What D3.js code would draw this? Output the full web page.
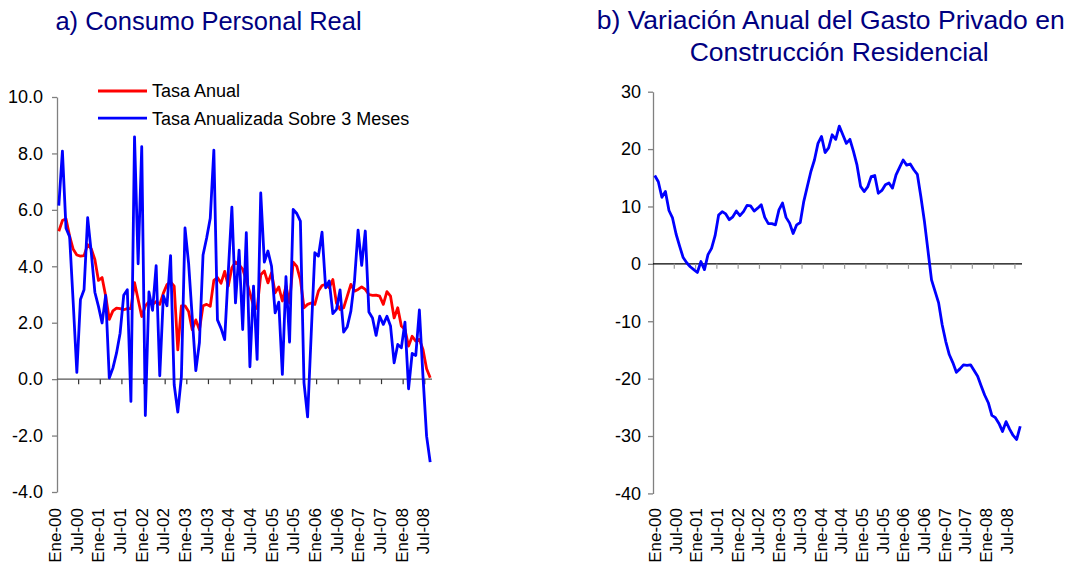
<!DOCTYPE html>
<html>
<head>
<meta charset="utf-8">
<script src="https://cdn.jsdelivr.net/npm/d3@7"></script>
<style>
  body { margin: 0; background: #fff; }
  text { font-family: "Liberation Sans", Arial, sans-serif; }
</style>
</head>
<body>
<svg id="chart" width="1071" height="565"></svg>
<script>
// Meses: Ene-00 ... Ago-08 (104 observaciones mensuales)
const mesesNombres = ["Ene", "Feb", "Mar", "Abr", "May", "Jun", "Jul", "Ago", "Sep", "Oct", "Nov", "Dic"];
const anios = ["00", "01", "02", "03", "04", "05", "06", "07", "08"];
const meses = [];
anios.forEach(a => mesesNombres.forEach(m => meses.push(m + "-" + a)));
meses.length = 104;

// Etiquetas del eje x (cada 6 meses)
const etiquetasX = ["Ene-00", "Jul-00", "Ene-01", "Jul-01", "Ene-02", "Jul-02", "Ene-03", "Jul-03", "Ene-04",
  "Jul-04", "Ene-05", "Jul-05", "Ene-06", "Jul-06", "Ene-07", "Jul-07", "Ene-08", "Jul-08"];

// a) Consumo personal real
const tasaAnual = [
  5.24, 5.62, 5.68, 5.07, 4.6, 4.4, 4.36, 4.38, 4.77, 4.62, 4.24, 3.5,
  3.6, 2.95, 2.12, 2.42, 2.52, 2.5, 2.46, 2.5, 2.5, 3.42, 2.82, 2.22,
  2.6, 2.75, 2.65, 2.75, 2.65, 3.05, 3.35, 3.45, 3.3, 1.04, 2.6, 2.6,
  2.4, 1.75, 2.1, 1.75, 2.6, 2.65, 2.58, 3.5, 3.6, 3.4, 3.82, 3.3,
  3.95, 4.15, 4.05, 3.9, 3.5, 3.06, 2.6, 2.5, 3.7, 3.83, 3.41, 3.77,
  3.06, 3.27, 2.77, 3.3, 2.7, 4.15, 4.0, 3.53, 2.53, 2.65, 2.7, 2.65,
  3.12, 3.32, 3.36, 3.24, 3.53, 2.7, 2.47, 2.53, 2.94, 3.36, 3.12, 3.18,
  3.27, 3.18, 3.0, 2.97, 2.98, 2.94, 2.65, 3.1, 2.94, 2.17, 2.53, 1.88,
  1.76, 1.17, 1.52, 1.35, 1.41, 1.05, 0.37, 0.05
];
const tasa3Meses = [
  6.15, 8.08, 5.35, 5.05, 2.7, 0.24, 2.82, 3.17, 5.72, 4.5, 3.08, 2.58,
  1.99, 2.97, 0.04, 0.39, 0.92, 1.63, 2.97, 3.17, -0.79, 8.59, 4.09, 8.24,
  -1.29, 3.09, 2.44, 4.02, 0.12, 2.96, 2.6, 4.38, -0.2, -1.17, 0.09, 5.36,
  4.1, 2.2, 0.3, 1.3, 4.4, 5.0, 5.7, 8.12, 2.1, 1.8, 1.4, 3.8,
  6.1, 2.7, 4.57, 1.76, 5.19, 0.44, 3.3, 0.7, 6.6, 4.15, 4.54, 4.0,
  2.35, 2.73, 0.17, 3.63, 1.31, 6.02, 5.87, 5.6, -0.13, -1.34, 1.6, 4.48,
  4.36, 5.21, 3.24, 3.48, 2.32, 2.47, 3.16, 1.67, 1.86, 2.41, 3.48, 5.28,
  4.03, 5.25, 2.38, 2.17, 1.55, 2.23, 1.94, 2.23, 1.88, 0.58, 1.23, 1.11,
  2.02, -0.34, 0.91, 0.84, 2.45, 0.1, -2.02, -2.94
];
const ticksA = [-4, -2, 0, 2, 4, 6, 8, 10];

// b) Gasto privado en construccion residencial, variacion anual
const construccion = [
  15.4, 14.3, 11.6, 12.6, 9.3, 8.0, 5.2, 3.1, 1.1, 0.2, -0.5, -1.0,
  -1.5, 0.4, -1.0, 1.6, 2.7, 4.9, 8.5, 9.1, 8.7, 7.7, 8.2, 9.2,
  8.4, 9.1, 10.2, 10.1, 9.2, 9.7, 10.3, 8.1, 7.0, 7.0, 6.8, 9.4,
  10.6, 8.1, 7.1, 5.3, 6.8, 7.2, 10.9, 13.5, 16.1, 18.1, 21.0, 22.2,
  19.4, 20.2, 22.5, 21.7, 24.0, 22.5, 21.0, 21.7, 19.6, 17.2, 13.5, 12.6,
  13.4, 15.2, 15.4, 12.3, 12.8, 13.8, 14.1, 13.2, 15.5, 16.8, 18.1, 17.2,
  17.4, 16.4, 15.6, 11.7, 7.4, 2.3, -2.8, -4.8, -6.8, -10.6, -13.5, -15.8,
  -17.2, -18.9, -18.3, -17.6, -17.7, -17.6, -18.6, -19.6, -21.3, -22.9, -24.2, -26.4,
  -26.8, -27.8, -29.2, -27.5, -28.8, -29.9, -30.6, -28.3
];
const ticksB = [-40, -30, -20, -10, 0, 10, 20, 30];

const svg = d3.select("#chart");
svg.append("rect").attr("width", 1071).attr("height", 565).attr("fill", "#fff");

// formato con guion simple, como en Excel
const conGuion = f => d => f(d).replace("\u2212", "-");

// Dibuja un panel completo
function panel(cfg) {
  const x = d3.scaleBand().domain(meses).range(cfg.xRange);
  const y = d3.scaleLinear().domain(cfg.yDomain).range(cfg.yRange);
  const cx = d => x(d) + x.bandwidth() / 2;
  const g = svg.append("g");

  // eje y
  const yAxis = g.append("g")
    .attr("transform", "translate(" + cfg.xRange[0] + ",0)")
    .call(d3.axisLeft(y).tickValues(cfg.ticks).tickSize(5).tickSizeOuter(0)
      .tickPadding(cfg.tickPad).tickFormat(cfg.fmt));
  yAxis.select(".domain").attr("stroke", "#808080").attr("stroke-width", 1.3);
  yAxis.selectAll(".tick line").attr("stroke", "#808080").attr("stroke-width", 1.3);
  yAxis.selectAll(".tick text").attr("font-size", 18).attr("fill", "#000")
    .attr("font-family", "Liberation Sans, Arial, sans-serif");

  // eje x sobre el cero
  const tickIdx = d3.range(6, meses.length, 6);
  g.append("line")
    .attr("x1", cfg.xRange[0]).attr("x2", cfg.xRange[1])
    .attr("y1", y(0)).attr("y2", y(0))
    .attr("stroke", cfg.zeroColor).attr("stroke-width", 1.3);
  g.selectAll(".xt").data(tickIdx).enter().append("line")
    .attr("x1", i => x(meses[i])).attr("x2", i => x(meses[i]))
    .attr("y1", y(0)).attr("y2", y(0) + 5)
    .attr("stroke", cfg.tickColor).attr("stroke-width", 1.2);

  // etiquetas del eje x
  const lx = d3.scalePoint().domain(etiquetasX).range(cfg.labelRange);
  g.selectAll(".xl").data(etiquetasX).enter().append("text")
    .attr("transform", d => "translate(" + (lx(d) + 6) + ",508) rotate(-90)")
    .attr("text-anchor", "end")
    .attr("font-size", 17)
    .text(d => d);

  // series
  cfg.series.forEach(s => {
    const line = d3.line().x((v, i) => cx(meses[i])).y(v => y(v));
    g.append("path").datum(s.values)
      .attr("d", line)
      .attr("fill", "none")
      .attr("stroke", s.color)
      .attr("stroke-width", 2.8)
      .attr("stroke-linejoin", "round");
  });
}

panel({
  xRange: [57, 432], yDomain: [-4, 10], yRange: [492, 97], ticks: ticksA,
  fmt: conGuion(d3.format(".1f")), tickPad: 9, zeroColor: "#555", tickColor: "#333",
  labelRange: [55, 423.3],
  series: [{ values: tasaAnual, color: "#ff0000" }, { values: tasa3Meses, color: "#0000ff" }]
});

panel({
  xRange: [653, 1022], yDomain: [-40, 30], yRange: [493.4, 91.7], ticks: ticksB,
  fmt: conGuion(d3.format("d")), tickPad: 7, zeroColor: "#000", tickColor: "#999",
  labelRange: [655, 1006.7],
  series: [{ values: construccion, color: "#0000ff" }]
});

// titulos
svg.append("text").attr("x", 208.5).attr("y", 30).attr("text-anchor", "middle")
  .attr("font-size", 25.5).attr("fill", "#000080").text("a) Consumo Personal Real");
svg.append("text").attr("x", 830.7).attr("y", 29.3).attr("text-anchor", "middle")
  .attr("font-size", 26.5).attr("fill", "#000080").text("b) Variación Anual del Gasto Privado en");
svg.append("text").attr("x", 839.2).attr("y", 60.5).attr("text-anchor", "middle")
  .attr("font-size", 26.5).attr("fill", "#000080").text("Construcción Residencial");

// leyenda
const leyenda = [
  { nombre: "Tasa Anual", color: "#ff0000" },
  { nombre: "Tasa Anualizada Sobre 3 Meses", color: "#0000ff" }
];
const lg = svg.append("g").selectAll("g").data(leyenda).enter().append("g")
  .attr("transform", (d, i) => "translate(98," + (91 + i * 27.2) + ")");
lg.append("line").attr("x1", 0).attr("x2", 49).attr("stroke", d => d.color).attr("stroke-width", 2.8);
lg.append("text").attr("x", 54).attr("dy", "0.35em").attr("font-size", 18).text(d => d.nombre);
</script>
</body>
</html>
